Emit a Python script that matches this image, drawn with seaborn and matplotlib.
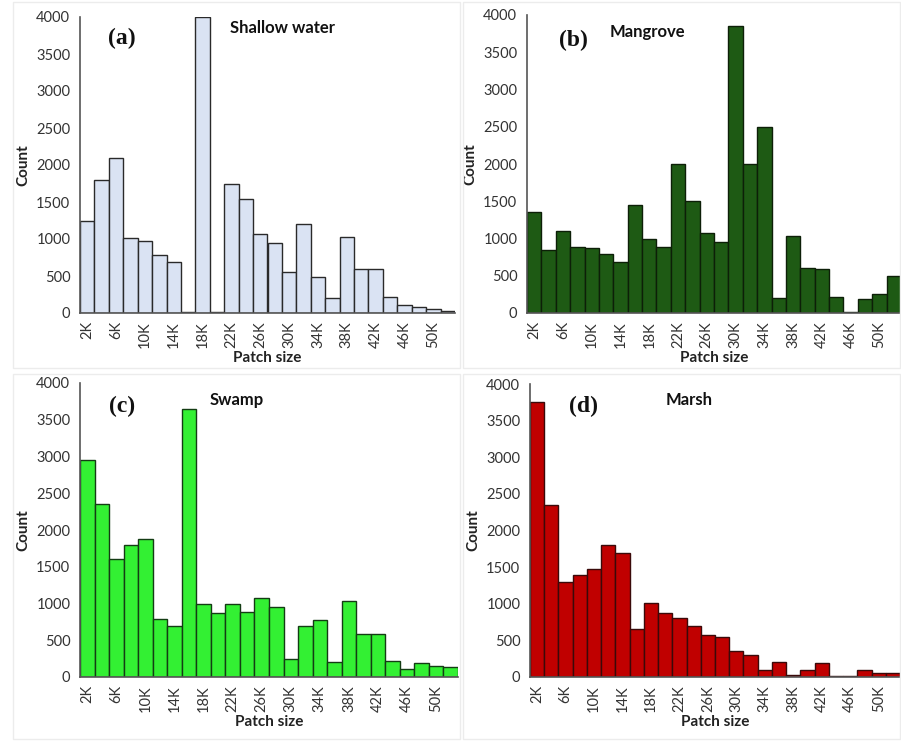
import matplotlib
matplotlib.use("Agg")
import matplotlib.pyplot as plt
import seaborn as sns
import pandas as pd
from matplotlib.patches import Rectangle

sns.set_style("white")
plt.rcParams['font.family'] = ['Lato', 'DejaVu Sans']

patch_sizes = [f"{k}K" for k in range(2, 53, 2)]
tick_labels = [f"{k}K" for k in range(2, 51, 4)]

shallow_water = [1250, 1800, 2100, 1010, 975, 790, 690, 20, 4000, 20, 1750, 1540, 1070,
                 950, 550, 1200, 490, 200, 1030, 600, 590, 220, 110, 80, 55, 30]
mangrove = [1350, 850, 1100, 890, 870, 790, 690, 1450, 1000, 880, 2000, 1500, 1070,
            950, 3850, 2000, 2490, 200, 1030, 600, 590, 220, 10, 190, 260, 500]
swamp = [2950, 2350, 1600, 1790, 1880, 790, 690, 3650, 1000, 870, 1000, 890, 1070,
         950, 250, 700, 780, 200, 1030, 590, 590, 220, 110, 190, 150, 140]
marsh = [3750, 2350, 1300, 1390, 1480, 1800, 1690, 650, 1010, 880, 800, 700, 580,
         550, 350, 300, 90, 200, 30, 90, 190, 10, 10, 90, 60, 50]

panels = [
    ("(a)", "Shallow water", shallow_water, "#dae3f3", "#2a2a2a"),
    ("(b)", "Mangrove", mangrove, "#1e5a14", "#0d1f08"),
    ("(c)", "Swamp", swamp, "#33f033", "#143c14"),
    ("(d)", "Marsh", marsh, "#c00000", "#3a0a0a"),
]

W, H = 901, 741
fig = plt.figure(figsize=(W / 100, H / 100), dpi=100)

# panel frames (pixel coords: x0, y0, x1, y1)
frames = [(13, 2, 460, 368), (463, 2, 900, 368), (13, 374, 460, 739), (463, 374, 900, 739)]
for x0, y0, x1, y1 in frames:
    fig.add_artist(Rectangle((x0 / W, 1 - y1 / H), (x1 - x0) / W, (y1 - y0) / H,
                             transform=fig.transFigure, fill=False,
                             edgecolor="#ececec", linewidth=1))

# axes rects in pixel coords: left, top, right, bottom
rects = [(80, 17, 455, 313), (527, 15, 901, 313), (80, 383, 458, 677), (530, 384, 900, 677)]
label_pos = [((122, 38), (230, 28)), ((573, 40), (610, 32)),
             ((122, 406), (210, 400)), ((583, 406), (666, 400))]

for (tag, name, vals, fc, ec), (l, t, r, b), ((tx, ty), (nx, ny)) in zip(panels, rects, label_pos):
    ax = fig.add_axes([l / W, 1 - b / H, (r - l) / W, (b - t) / H])
    df = pd.DataFrame({"size": patch_sizes, "count": vals})
    sns.barplot(data=df, x="size", y="count", order=patch_sizes, ax=ax,
                color=fc, edgecolor=ec, linewidth=1.0, width=1.0, saturation=1)
    ax.set_xlim(-0.5, len(patch_sizes) - 0.5)
    ax.set_ylim(0, 4000)
    ax.set_yticks(range(0, 4001, 500))
    ax.set_yticklabels([str(v) for v in range(0, 4001, 500)], fontsize=10.5, color="#333333")
    ax.set_xticks(range(0, len(patch_sizes), 2))
    ax.set_xticklabels(tick_labels, rotation=90, fontsize=10.5, color="#333333")
    ax.tick_params(axis="x", length=0, pad=6)
    ax.tick_params(axis="y", length=4, width=1, color="#555555", direction="out", pad=3)
    for s in ["top", "right"]:
        ax.spines[s].set_visible(False)
    for s in ["left", "bottom"]:
        ax.spines[s].set_color("#555555")
        ax.spines[s].set_linewidth(1.2)
    ax.set_xlabel("Patch size", fontsize=11, fontweight="bold", color="#222222", labelpad=2)
    ax.set_ylabel("Count", fontsize=11, fontweight="bold", color="#222222", labelpad=4)
    fig.text(tx / W, 1 - ty / H, tag, fontsize=17, fontweight="bold",
             family=["Liberation Serif", "DejaVu Serif"], ha="center", va="center", color="#111111")
    fig.text(nx / W, 1 - ny / H, name, fontsize=12, fontweight="bold",
             ha="left", va="center", color="#111111")

fig.savefig("out.png", dpi=100)
